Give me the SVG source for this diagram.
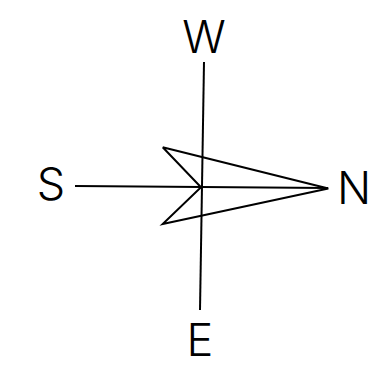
<svg xmlns="http://www.w3.org/2000/svg" width="379" height="366" viewBox="0 0 379 366">
<style>
.lbl{font-family:Inter,"Liberation Sans",Arial,sans-serif;font-weight:300;font-size:45px;fill:#000}
.ln{stroke:#000;stroke-width:2;fill:none;stroke-linejoin:miter}
</style>
<rect width="379" height="366" fill="#fff"/>
<g id="connectors">
<line class="ln" x1="204" y1="62" x2="200" y2="310"/>
<line class="ln" x1="75" y1="186" x2="328" y2="188"/>
<polyline class="ln" points="162.7,147.3 328.3,188.5 162.7,224 201,187.3 162.7,147.3"/>
</g>
<g id="W"><text class="lbl" x="204" y="53" text-anchor="middle">W</text></g>
<g id="S"><text class="lbl" x="51" y="200" text-anchor="middle">S</text></g>
<g id="N"><text class="lbl" x="354" y="204" text-anchor="middle">N</text></g>
<g id="E"><text class="lbl" x="200" y="356" text-anchor="middle">E</text></g>
</svg>
